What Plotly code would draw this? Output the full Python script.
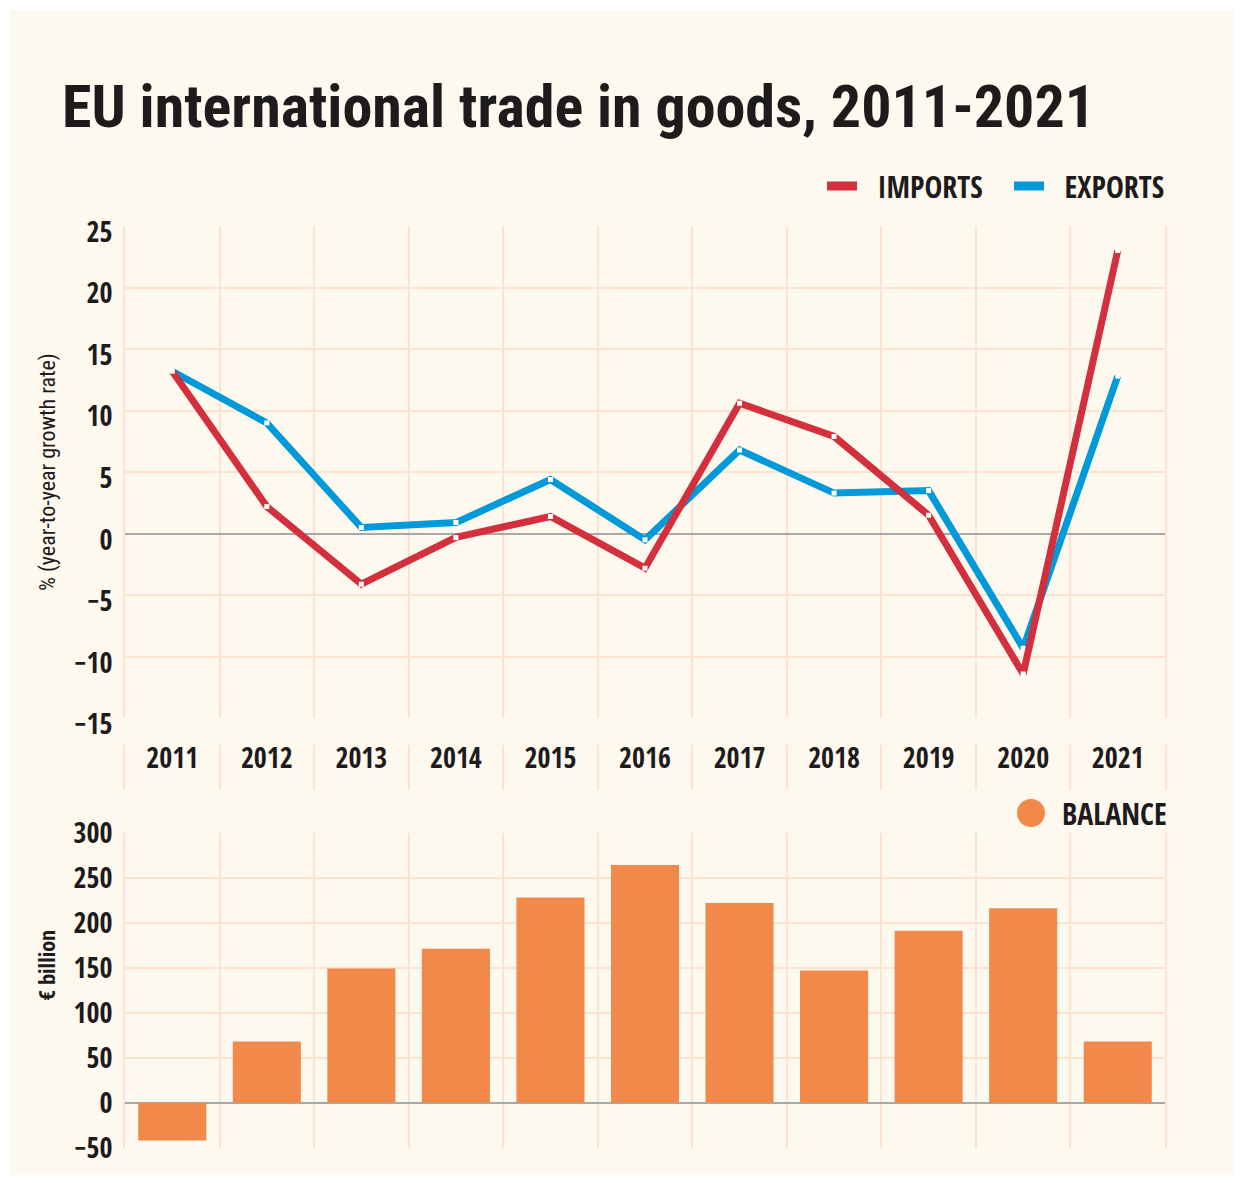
import plotly.graph_objects as go

# ---------------- data ----------------
years = ["2011", "2012", "2013", "2014", "2015", "2016", "2017", "2018", "2019", "2020", "2021"]
imports_growth = [13.2, 2.2, -4.1, -0.3, 1.4, -2.8, 10.6, 7.9, 1.5, -11.4, 23.0]
exports_growth = [13.2, 9.0, 0.5, 0.9, 4.4, -0.5, 6.8, 3.3, 3.5, -9.3, 12.8]
trade_balance = [-42, 68, 149, 171, 228, 264, 222, 147, 191, 216, 68]
growth_ticks = [-15, -10, -5, 0, 5, 10, 15, 20, 25]
balance_ticks = [-50, 0, 50, 100, 150, 200, 250, 300]
band_positions = [0.65] * len(years)

# ---------------- styles ----------------
RED = "#D42F3C"
BLUE = "#0099DA"
ORANGE = "#F0894A"
BG = "#FEF9EF"
GRID = "#FCE2CF"
ZERO = "#A8A8A8"
INK = "#1E1B1C"
F_TITLE = "Roboto Condensed"
F_MAIN = "Open Sans Condensed"
F_AX = "Roboto Condensed"

OFF = 8                        # default page body margin
W, H = 1228, 1167
ML = 125 - OFF
MR = W - (1165 - OFF)
MT, MB = 92, 17
pw = W - ML - MR
ph = H - MT - MB

def xp(sx):                    # target x (px) -> paper x
    return (sx - OFF - ML) / pw

def yfig(sy):
    return sy - OFF

def yp(sy):                    # target y (px) -> paper y
    return (H - MB - yfig(sy)) / ph

def dom(top_s, bot_s):
    return [yp(bot_s), yp(top_s)]

fig = go.Figure()

fig.add_trace(go.Scatter(
    x=years, y=exports_growth, name="EXPORTS", mode="lines+markers", showlegend=False,
    line=dict(color=BLUE, width=7), marker=dict(symbol="square", size=5, color="white"),
    xaxis="x", yaxis="y"))
fig.add_trace(go.Scatter(
    x=years, y=imports_growth, name="IMPORTS", mode="lines+markers", showlegend=False,
    line=dict(color=RED, width=7), marker=dict(symbol="square", size=5, color="white"),
    xaxis="x", yaxis="y"))
# legend entries
fig.add_trace(go.Scatter(x=[None], y=[None], mode="lines", name="\u00a0\u00a0IMPORTS",
                         line=dict(color=RED, width=9), legend="legend"))
fig.add_trace(go.Scatter(x=[None], y=[None], mode="lines", name="\u00a0\u00a0EXPORTS",
                         line=dict(color=BLUE, width=9), legend="legend3"))

fig.add_trace(go.Scatter(
    x=years, y=band_positions, mode="text", text=years, showlegend=False,
    textfont=dict(family=F_MAIN, size=28, color=INK, weight="bold"),
    xaxis="x2", yaxis="y2", hoverinfo="skip"))

fig.add_trace(go.Bar(
    x=years, y=trade_balance, name="BALANCE", marker=dict(color=ORANGE, line=dict(width=0)),
    width=0.72, showlegend=False, xaxis="x3", yaxis="y3"))

common_x = dict(type="category", tickson="boundaries", showgrid=True, gridcolor=GRID,
                gridwidth=2, showticklabels=False, ticks="", zeroline=False,
                showline=False, range=[-0.5, len(years) - 0.5], fixedrange=True,
                automargin=False)
tickfont = dict(family=F_MAIN, size=28, color=INK, weight="bold")
legfont = dict(family=F_MAIN, size=30, color=INK, weight="bold")

fig.update_layout(
    width=W, height=H,
    margin=dict(l=ML, r=MR, t=MT, b=MB, autoexpand=False),
    paper_bgcolor="white", plot_bgcolor="rgba(0,0,0,0)",
    showlegend=True,
    title=dict(text="EU international trade in goods, 2011-2021",
               font=dict(family=F_TITLE, size=60, color=INK, weight="bold"),
               x=(62 - OFF) / W, xanchor="left", xref="container",
               y=1 - yfig(106) / H, yanchor="middle", yref="container"),
    xaxis=dict(common_x, domain=[0, 1], anchor="y"),
    yaxis=dict(domain=dom(226, 718.3), range=[-15, 25], tickvals=growth_ticks,
               showgrid=True, gridcolor=GRID, gridwidth=2, automargin=False,
               zeroline=True, zerolinecolor=ZERO, zerolinewidth=1.5,
               showline=True, mirror=True, linecolor=GRID, linewidth=2,
               tickfont=tickfont, ticks="", ticklabelstandoff=5, ticklabelshift=6,
               title=dict(text="% (year-to-year growth rate)", standoff=12,
                          font=dict(family=F_AX, size=22, color=INK))),
    xaxis2=dict(common_x, domain=[0, 1], anchor="y2"),
    yaxis2=dict(domain=dom(745, 790), range=[0, 1], showgrid=False, zeroline=False,
                showticklabels=False, showline=True, mirror=True, linecolor=GRID,
                linewidth=2, ticks="", fixedrange=True, automargin=False),
    xaxis3=dict(common_x, domain=[0, 1], anchor="y3"),
    yaxis3=dict(domain=dom(832.7, 1147.7), range=[-50, 300], tickvals=balance_ticks,
                showgrid=True, gridcolor=GRID, gridwidth=2, automargin=False,
                zeroline=True, zerolinecolor=ZERO, zerolinewidth=1.5,
                showline=True, mirror=True, linecolor=GRID, linewidth=2,
                tickfont=tickfont, ticks="", ticklabelstandoff=5),
    bargap=0.28,
    legend=dict(orientation="h", x=xp(988), xanchor="right", y=yp(186),
                yanchor="middle", bgcolor="rgba(0,0,0,0)", font=legfont, itemwidth=30),
    legend3=dict(orientation="h", x=xp(1170), xanchor="right", y=yp(186),
                 yanchor="middle", bgcolor="rgba(0,0,0,0)", font=legfont, itemwidth=30),
    annotations=[
        dict(text="€ billion", textangle=-90, xref="paper", yref="paper",
             x=xp(47), y=yp(966), xanchor="center", yanchor="middle", showarrow=False,
             font=dict(family=F_AX, size=22, color=INK, weight="bold")),
        dict(text="BALANCE", xref="paper", yref="paper", x=xp(1060), y=yp(813),
             xanchor="left", yanchor="middle", showarrow=False, font=legfont),
    ],
    shapes=[
        dict(type="rect", xref="paper", yref="paper", layer="below",
             x0=xp(10), x1=xp(1234), y0=yp(1180), y1=yp(10),
             fillcolor=BG, line=dict(width=0)),
        dict(type="circle", xref="paper", yref="paper", layer="above",
             x0=xp(1017), x1=xp(1045), y0=yp(827), y1=yp(799),
             fillcolor=ORANGE, line=dict(width=0)),
    ],
)

fig.write_html("out.html")
